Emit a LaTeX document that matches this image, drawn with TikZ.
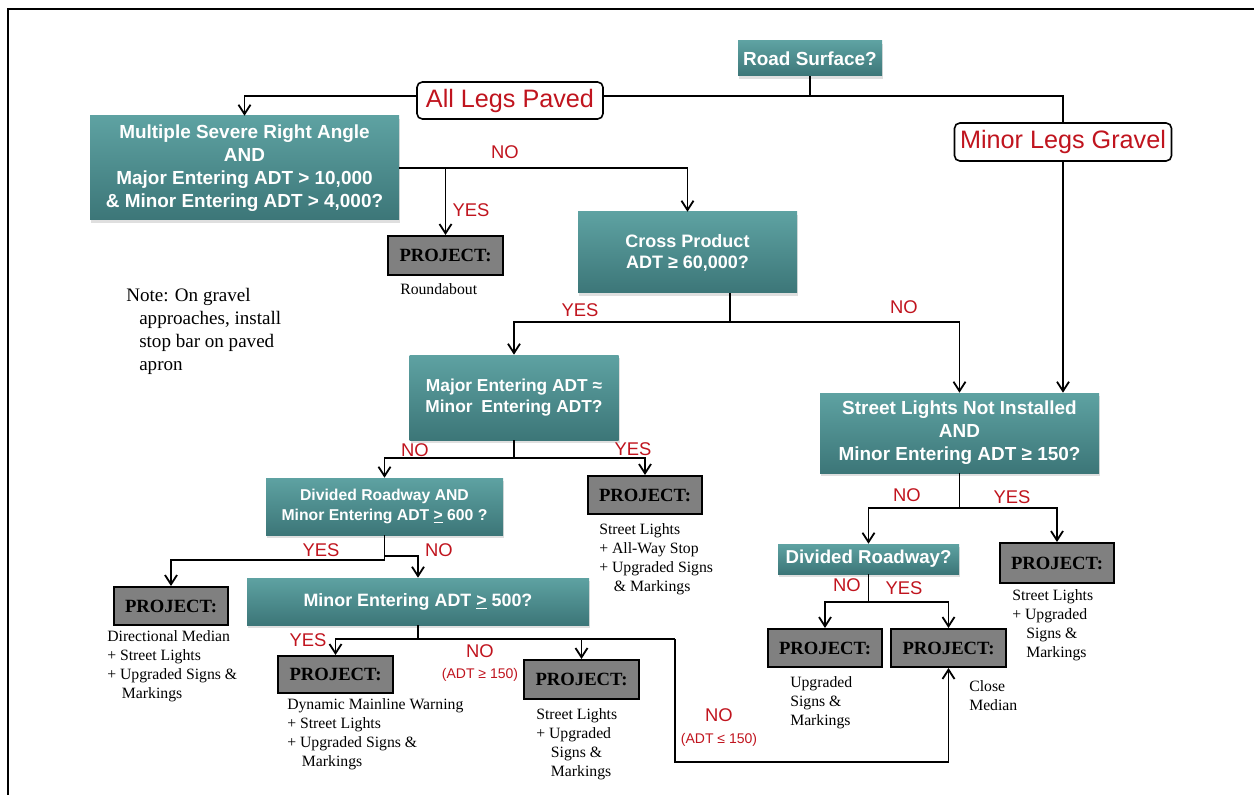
\documentclass[tikz,border=0pt]{standalone}
\usepackage{fontspec}
\setmainfont{Liberation Serif}
\newfontfamily\arialf{Liberation Sans}
\usetikzlibrary{arrows.meta,shadows}
\definecolor{tealtop}{RGB}{94,162,162}
\definecolor{tealbot}{RGB}{60,118,120}
\definecolor{redtxt}{RGB}{192,20,30}
\definecolor{projgray}{RGB}{128,128,128}
\begin{document}
\begin{tikzpicture}[x=0.75pt,y=-0.75pt,
  sz/.style 2 args={minimum width=#1*0.75pt, minimum height=#2*0.75pt},
  tealbox/.style={draw=none, top color=tealtop, bottom color=tealbot, text=white,
    align=center, inner sep=0pt,
    font=\arialf\bfseries\fontsize{14.2}{17.25}\selectfont,
    drop shadow={shadow xshift=1pt, shadow yshift=-2pt, opacity=0.25}},
  legbox/.style={draw=black, line width=1.2pt, rounded corners=4pt, fill=white,
    text=redtxt, inner sep=0pt, font=\arialf\fontsize{18.9}{21}\selectfont},
  projbox/.style={draw=black, line width=1.5pt, fill=projgray, inner sep=0pt,
    font=\bfseries\fontsize{14}{16}\selectfont},
  desc/.style={anchor=north west, inner sep=0pt, align=left,
    font=\fontsize{11.8}{14.25}\selectfont},
  notetxt/.style={anchor=north west, inner sep=0pt, align=left,
    font=\fontsize{14.3}{17.25}\selectfont},
  lab/.style={text=redtxt, inner sep=0pt, font=\arialf\fontsize{13.8}{16}\selectfont},
  slab/.style={text=redtxt, inner sep=0pt, font=\arialf\fontsize{10.5}{12}\selectfont},
  conn/.style={line width=1.35pt},
  arr/.style={conn, -{Straight Barb[length=7pt,width=9pt,line width=1.35pt]}}
]
\useasboundingbox (0,0) rectangle (1254,795);
\draw[line width=1.5pt] (8,795) -- (8,9) -- (1254,9);

% decision boxes
\node[tealbox, sz={144}{35}] (rs) at (810,58.5) {Road Surface?};
\node[legbox, sz={186}{37}] (alp) at (510,100.5) {All Legs Paved};
\node[legbox, sz={217}{38}] (mlg) at (1063,142) {Minor Legs Gravel};
\node[tealbox, sz={309}{104}] (msra) at (244.5,168)
  {Multiple Severe Right Angle\\AND\\Major Entering ADT > 10,000\\\& Minor Entering ADT > 4,000?};
\node[tealbox, font=\arialf\bfseries\fontsize{13.5}{15.75}\selectfont, sz={219}{81}] (cp) at (687.5,252.5)
  {Cross Product\\ADT ≥ 60,000?};
\node[tealbox, font=\arialf\bfseries\fontsize{13}{15.75}\selectfont, sz={209}{85}] (me) at (514,397.5)
  {Major Entering ADT ≈\\Minor\enspace Entering ADT?};
\node[tealbox, sz={279}{80}] (sl) at (959.5,433)
  {Street Lights Not Installed\\AND\\Minor Entering ADT ≥ 150?};
\node[tealbox, font=\arialf\bfseries\fontsize{11.8}{15}\selectfont, sz={237}{57}] (dra) at (384.5,506.5)
  {Divided Roadway AND\\Minor Entering ADT \underline{>} 600 ?};
\node[tealbox, font=\arialf\bfseries\fontsize{13.4}{16}\selectfont, sz={342}{47}] (m500) at (418,601.5)
  {Minor Entering ADT \underline{>} 500?};
\node[tealbox, font=\arialf\bfseries\fontsize{14}{16}\selectfont, sz={181}{30}] (dr) at (868.5,559)
  {Divided Roadway?};

% project boxes
\node[projbox, sz={115}{39}] (p1) at (445.5,255.5) {PROJECT:};
\node[projbox, sz={114}{38}] (p2) at (645,495) {PROJECT:};
\node[projbox, sz={114}{38}] (p3) at (171,606) {PROJECT:};
\node[projbox, sz={115}{37}] (p4) at (335.5,674.5) {PROJECT:};
\node[projbox, sz={115}{39}] (p5) at (581.5,679.5) {PROJECT:};
\node[projbox, sz={114}{40}] (p6) at (1057,563) {PROJECT:};
\node[projbox, sz={114}{38}] (p7) at (825,648) {PROJECT:};
\node[projbox, sz={115}{38}] (p8) at (948.5,648) {PROJECT:};

% descriptions
\node[desc] (d1) at (400,283) {Roundabout};
\node[desc] (d2) at (599,523) {Street Lights\\+ All-Way Stop\\+ Upgraded Signs\\\hspace*{11pt}\& Markings};
\node[desc] (d3) at (107,630) {Directional Median\\+ Street Lights\\+ Upgraded Signs \&\\\hspace*{11pt}Markings};
\node[desc] (d4) at (287,698) {Dynamic Mainline Warning\\+ Street Lights\\+ Upgraded Signs \&\\\hspace*{11pt}Markings};
\node[desc] (d5) at (536,708) {Street Lights\\+ Upgraded\\\hspace*{11pt}Signs \&\\\hspace*{11pt}Markings};
\node[desc] (d6) at (1012,589) {Street Lights\\+ Upgraded\\\hspace*{10.5pt}Signs \&\\\hspace*{10.5pt}Markings};
\node[desc] (d7) at (790,676) {Upgraded\\Signs \&\\Markings};
\node[desc] (d8) at (969,680) {Close\\Median};
\node[notetxt] (note) at (126,288) {Note: On gravel\\\hspace*{9.75pt}approaches, install\\\hspace*{9.75pt}stop bar on paved\\\hspace*{9.75pt}apron};

% connectors
\coordinate (jtop) at (810,96);
\draw[conn] (rs.south) -- (jtop);
\draw[conn] (jtop) -- (alp.east |- jtop);
\draw[arr] (alp.west |- jtop) -| (msra.north);
\draw[conn] (jtop) -| (mlg.north);
\draw[arr] (mlg.south) -- (mlg.south |- sl.north);
\draw[arr] (msra.east) -| (cp.north);
\draw[arr] (p1.north |- msra.east) -- (p1.north);
\coordinate (jcp) at (730,322);
\draw[conn] (cp.south -| jcp) -- (jcp);
\draw[arr] (jcp) -| (me.north);
\draw[arr] (jcp) -| (sl.north);
\coordinate (jme) at (514,458);
\draw[conn] (me.south) -- (jme);
\draw[arr] (jme) -| (dra.north);
\draw[arr] (jme) -| (p2.north);
\coordinate (jd) at (384.5,560);
\coordinate (jdn) at (384.5,556);
\draw[conn] (dra.south) -- (jd);
\draw[arr] (jd) -| (p3.north);
\draw[arr] (jdn) -| (m500.north);
\coordinate (jm) at (418,639);
\coordinate (jr) at (675,639);
\coordinate (jlow) at (675,762);
\draw[conn] (m500.south) -- (jm);
\draw[arr] (jm) -| (p4.north);
\draw[conn] (jm) -- (jr);
\draw[arr] (p5.north |- jm) -- (p5.north);
\draw[arr] (jr) -- (jlow) -| (p8.south);
\coordinate (jsl) at (959.5,508);
\draw[conn] (sl.south) -- (jsl);
\draw[arr] (jsl) -| (dr.north);
\draw[arr] (jsl) -| (p6.north);
\coordinate (jdr) at (868.5,602);
\draw[conn] (dr.south) -- (jdr);
\draw[arr] (jdr) -| (p7.north);
\draw[arr] (jdr) -| (p8.north);

% labels
\node[lab] (l1) at (505,152) {NO};
\node[lab] (l2) at (471,210) {YES};
\node[lab] (l3) at (580,310) {YES};
\node[lab] (l4) at (904,307) {NO};
\node[lab] (l5) at (415,450) {NO};
\node[lab] (l6) at (633,449) {YES};
\node[lab] (l7) at (321,550) {YES};
\node[lab] (l8) at (439,550) {NO};
\node[lab] (l9) at (308,640) {YES};
\node[lab] (l10) at (480,651) {NO};
\node[slab] (l11) at (480,675) {(ADT ≥ 150)};
\node[lab] (l12) at (719,715) {NO};
\node[slab] (l13) at (719,740) {(ADT ≤ 150)};
\node[lab] (l14) at (907,495) {NO};
\node[lab] (l15) at (1012,497) {YES};
\node[lab] (l16) at (847,585) {NO};
\node[lab] (l17) at (904,588) {YES};
\end{tikzpicture}
\end{document}
